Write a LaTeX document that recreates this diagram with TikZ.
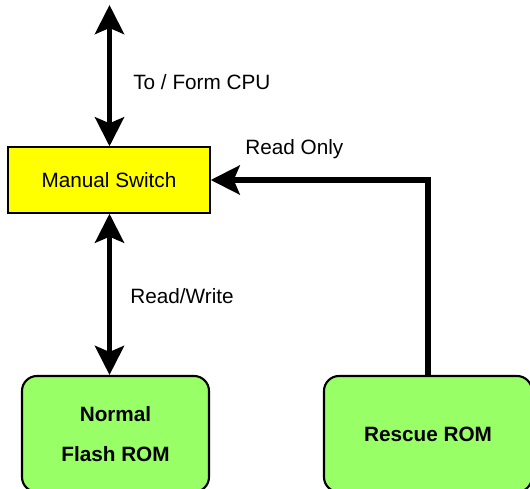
\documentclass[tikz,border=0pt]{standalone}
\usepackage{fontspec}
\setmainfont{Liberation Sans}
\usepackage{xcolor}
\usepackage{tikz}
\usetikzlibrary{arrows.meta,positioning}
\definecolor{swyellow}{RGB}{255,255,0}
\definecolor{romgreen}{RGB}{153,255,102}

\begin{document}
\begin{tikzpicture}[
  font=\fontsize{11.8}{14}\selectfont,
  switchbox/.style={rectangle, draw=black, line width=0.8pt, fill=swyellow,
    minimum width=40.4mm, minimum height=13.2mm, inner sep=2pt},
  rombox/.style={rectangle, rounded corners=3mm, draw=black, line width=1.2pt, fill=romgreen,
    align=center, minimum height=23.2mm, inner sep=2pt, font=\fontsize{11.8}{22.5}\selectfont\bfseries},
  arrow/.style={-{Stealth[length=5.8mm,width=5.8mm,inset=1.2mm]}, line width=3pt, draw=black},
  dblarrow/.style={{Stealth[length=5.8mm,width=5.8mm,inset=1.2mm]}-{Stealth[length=5.8mm,width=5.8mm,inset=1.2mm]}, line width=3pt, draw=black},
  lbl/.style={anchor=west, inner sep=0pt}
]
\useasboundingbox (0,0) rectangle (10.6,-9.76);

\node[switchbox] (switch) at (2.18,-3.6) {Manual Switch};
\node[rombox, minimum width=37.4mm] (normal) at (2.31,-8.68) {Normal\\Flash ROM};
\node[rombox, minimum width=41.6mm] (rescue) at (8.56,-8.68) {Rescue ROM};

\coordinate (cpu) at (2.19,-0.1);
\coordinate (corner) at (rescue.north |- switch.east);

\draw[dblarrow] (cpu) -- (cpu |- switch.north);
\draw[dblarrow] (cpu |- switch.south) -- (cpu |- normal.north);
\draw[arrow] (rescue.north) -- (corner) -- (switch.east);

\node[lbl] (cpulbl) at (2.66,-1.64) {To / Form CPU};
\node[lbl] (rwlbl) at (2.6,-5.92) {Read/Write};
\node[lbl] (rolbl) at (4.9,-2.98) {Read Only};

\end{tikzpicture}
\end{document}
